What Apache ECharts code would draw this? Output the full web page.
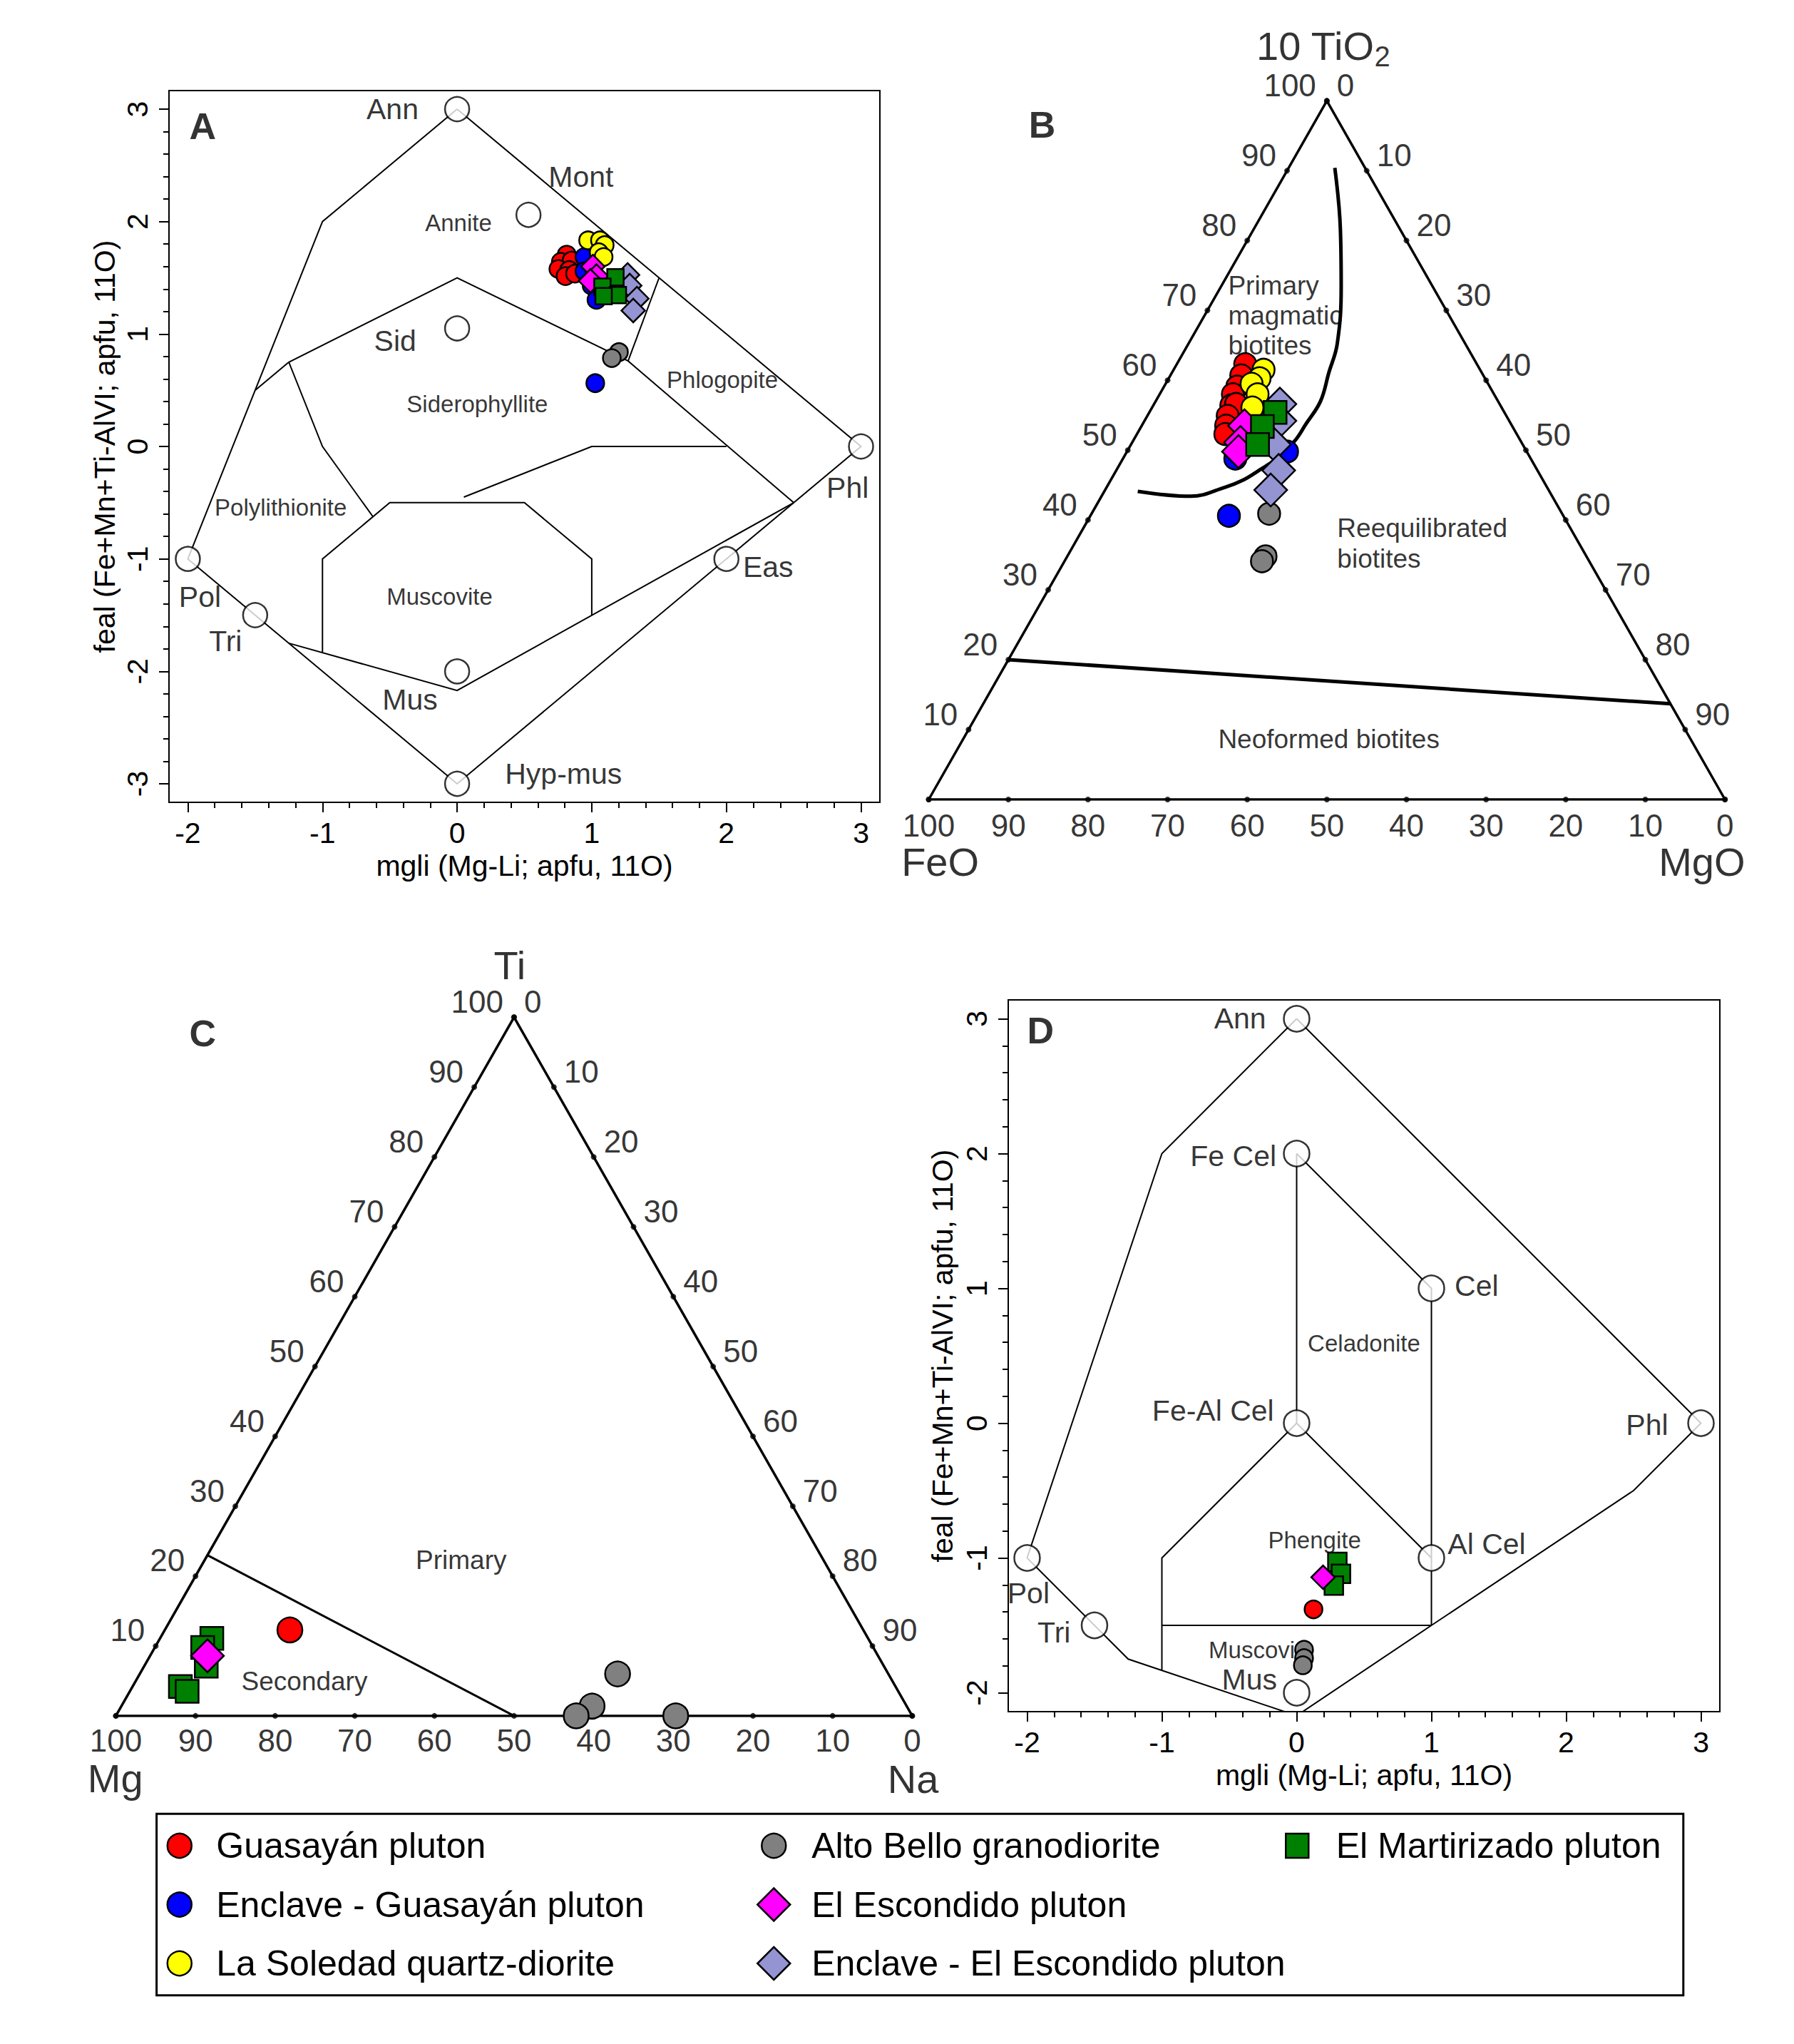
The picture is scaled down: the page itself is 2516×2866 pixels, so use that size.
<!DOCTYPE html>
<html><head><meta charset="utf-8">
<script src="https://cdn.jsdelivr.net/npm/echarts@6/dist/echarts.min.js"></script>
<style>html,body{margin:0;padding:0;background:#fff}#c{width:2516px;height:2866px}</style>
</head><body><div id="c"></div>
<script>
// ================= DATA =================
// Series names (legend)
const N_GUA = 'Guasayán pluton';
const N_ENG = 'Enclave - Guasayán pluton';
const N_SOL = 'La Soledad quartz-diorite';
const N_ALB = 'Alto Bello granodiorite';
const N_ESC = 'El Escondido pluton';
const N_ENE = 'Enclave - El Escondido pluton';
const N_MAR = 'El Martirizado pluton';

// Panel A: [mgli, feal]
const A_gua = [[0.814,1.706],[0.770,1.642],[0.850,1.653],[0.752,1.579],[0.832,1.569],[0.805,1.515],[0.876,1.537]];
const A_eng = [[0.946,1.685],[0.946,1.558],[0.999,1.431],[1.035,1.304],[1.026,0.563]];
const A_sol = [[0.973,1.833],[1.061,1.833],[1.096,1.791],[1.052,1.727],[1.088,1.685]];
const A_alb = [[1.202,0.839],[1.149,0.786]];
const A_esc = [[1.008,1.600],[1.035,1.515],[0.990,1.473]];
const A_ene = [[1.266,1.526],[1.282,1.431],[1.335,1.315],[1.308,1.209]];
const A_mar = [[1.176,1.505],[1.079,1.420],[1.194,1.346],[1.088,1.336]];

// Panel B: [FeO, MgO, 10TiO2] (%)
const B_gua = [[29.1,8.6,62.3],[30.4,8.9,60.7],[31.7,9.2,59.1],[32.8,9.2,58.0],[33.8,9.8,56.4],[33.1,10.3,56.6],[35.0,10.1,54.9],[35.9,10.6,53.5],[36.6,11.1,52.3]];
const B_eng = [[37.1,14.1,48.8],[30.1,20.1,49.8],[42.0,17.4,40.6]];
const B_sol = [[27.2,11.3,61.5],[28.3,11.4,60.3],[29.7,10.8,59.5],[29.7,12.3,58.0],[31.3,12.6,56.1]];
const B_alb = [[36.8,22.3,40.9],[40.3,24.9,34.8],[41.1,24.8,34.1]];
const B_esc = [[33.6,12.9,53.5],[35.3,13.6,51.1],[36.2,14.0,49.8]];
const B_ene = [[27.6,15.8,56.6],[28.8,17.0,54.2],[31.2,18.0,50.8],[32.5,20.4,47.1],[34.9,20.8,44.3]];
const B_mar = [[28.8,15.8,55.4],[31.4,15.2,53.4],[33.3,15.9,50.8]];
const B_curve = [[3.8,5.8,90.4],[7.5,10.9,81.6],[11.5,15.1,73.4],[16.1,18.7,65.2],[19.2,19.7,61.1],[22.3,20.7,57.0],[25.8,20.5,53.7],[28.4,20.3,51.3],[31.9,19.3,48.8],[34.8,18.0,47.2],[37.7,16.6,45.7],[40.4,14.9,44.7],[45.4,11.2,43.4],[51.7,4.2,44.1]];
const B_neoLine = [[80,0,20],[0,86.3,13.7]];

// Panel C: [Mg, Na, Ti] (%)
const C_gua = [[72.0,15.7,12.3]];
const C_alb = [[34.0,60.0,6.0],[39.5,59.1,1.4],[42.2,57.8,0],[29.7,70.3,0]];
const C_esc = [[84.2,7.2,8.6]];
const C_mar = [[82.4,6.5,11.1],[84.2,6.0,9.8],[85.1,7.8,7.1],[89.8,6.0,4.2],[89.3,7.2,3.5]];
const C_line = [[77,0,23],[50,50,0]];

// Panel D: [mgli, feal]
const D_gua = [[0.125,-1.381]];
const D_alb = [[0.055,-1.681],[0.055,-1.743],[0.046,-1.796]];
const D_esc = [[0.196,-1.143]];
const D_mar = [[0.302,-1.029],[0.329,-1.117],[0.276,-1.205]];

// Tick labels
const A_xTicks = [-2,-1,0,1,2,3];
const A_yTicks = [-3,-2,-1,0,1,2,3];
const D_xTicks = [-2,-1,0,1,2,3];
const D_yTicks = [-2,-1,0,1,2,3];
const ternTicks = [0,10,20,30,40,50,60,70,80,90,100];

// End members
const A_end = [[0,3],[0.53,2.06],[0,1.05],[3,0],[2,-1],[-2,-1],[-1.5,-1.5],[0,-2],[0,-3]];
const D_end = [[0,3],[0,2],[1,1],[0,0],[1,-1],[3,0],[-2,-1],[-1.5,-1.5],[0,-2]];

// Field boundaries
const A_lines = [
  [[0,3],[-1,2],[-1.5,0.5],[-2,-1],[-1.5,-1.5],[0,-3],[2,-1],[3,0],[0,3]],
  [[-1.5,0.5],[-1.25,0.75],[0,1.5],[1.27,0.76],[2.5,-0.5]],
  [[1.27,0.76],[1.5,1.5]],
  [[-1.25,0.75],[-1,0],[-0.625,-0.625]],
  [[-1,-1.83],[-1,-1],[-0.5,-0.5],[0.5,-0.5],[1,-1],[1,-1.5]],
  [[-1.25,-1.75],[0,-2.17],[2.5,-0.5]],
  [[0.05,-0.45],[1,0],[2,0]]
];
const D_lines = [
  [[0,3],[-1,2],[-2,-1],[-1.5,-1.5],[-1.25,-1.75],[0,-2.17],[1,-1.5],[2.5,-0.5],[3,0],[0,3]],
  [[0,2],[1,1],[1,-1],[1,-1.5]],
  [[0,2],[0,0],[1,-1]],
  [[0,0],[-1,-1],[-1,-1.83]],
  [[-1,-1.5],[1,-1.5]]
];

// Text labels [text, x, y]
const A_bigLabels = [['Ann',-0.48,3.0],['Mont',0.92,2.40],['Sid',-0.46,0.94],['Phl',2.90,-0.37],['Eas',2.31,-1.07],['Pol',-1.91,-1.34],['Tri',-1.72,-1.73],['Mus',-0.35,-2.25],['Hyp-mus',0.79,-2.91]];
const A_smallLabels = [['Annite',0.01,1.99],['Siderophyllite',0.15,0.38],['Phlogopite',1.97,0.59],['Polylithionite',-1.31,-0.54],['Muscovite',-0.13,-1.335]];
const D_bigLabels = [['Ann',-0.42,3.0],['Fe Cel',-0.47,1.98],['Cel',1.335,1.016],['Fe-Al Cel',-0.62,0.093],['Phl',2.60,-0.012],['Al Cel',1.41,-0.895],['Pol',-1.99,-1.26],['Tri',-1.80,-1.555],['Mus',-0.35,-1.90]];
const D_smallLabels = [['Celadonite',0.50,0.595],['Phengite',0.133,-0.866],['Muscovite',-0.26,-1.684]];

// ================= CHART =================
const FONT = 'Liberation Sans, Arial, Helvetica, sans-serif';
const styles = {};
styles[N_GUA] = {symbol:'circle', color:'#ff0000'};
styles[N_ENG] = {symbol:'circle', color:'#0000ff'};
styles[N_SOL] = {symbol:'circle', color:'#ffff00'};
styles[N_ALB] = {symbol:'circle', color:'#808080'};
styles[N_ESC] = {symbol:'diamond', color:'#ff00ff'};
styles[N_ENE] = {symbol:'diamond', color:'#9494d2'};
styles[N_MAR] = {symbol:'rect', color:'#008000'};

const tern = p => [p[1] + p[2] / 2, p[2]];

function pts(name, data, xi, yi, sizes, conv) {
  const st = styles[name];
  return {type:'scatter', name, xAxisIndex:xi, yAxisIndex:yi, symbol:st.symbol,
    symbolSize:sizes[st.symbol], data: conv ? data.map(conv) : data,
    itemStyle:{color:st.color, borderColor:'#000', borderWidth:2.5, opacity:1},
    emphasis:{disabled:true}, silent:true, clip:false, z:5, animation:false};
}
function lineS(data, xi, yi, width, smooth) {
  return {type:'line', xAxisIndex:xi, yAxisIndex:yi, data, symbol:'none', showSymbol:false,
    smooth: smooth || false, lineStyle:{color:'#000', width, join:'miter', cap:'butt'},
    silent:true, z:2, animation:false, clip:true};
}
function labelS(list, xi, yi, lab, z) {
  return {type:'scatter', xAxisIndex:xi, yAxisIndex:yi, symbolSize:1,
    itemStyle:{color:'rgba(0,0,0,0)'}, silent:true, clip:false, z: z || 10, animation:false,
    data:list.map(l => ({name:l[0], value:[l[1], l[2]]})),
    label:Object.assign({show:true, position:'inside', formatter:'{b}', color:'#000', fontFamily:FONT}, lab)};
}
function endS(data, xi, yi, size) {
  return {type:'scatter', xAxisIndex:xi, yAxisIndex:yi, data, symbol:'circle', symbolSize:size,
    itemStyle:{color:'#fff', borderColor:'#000', borderWidth:2.5}, silent:true, z:4, clip:false, animation:false};
}
function minorOf(ticks) {
  const out = [];
  for (let i = 0; i < ticks.length - 1; i++) for (let k = 1; k < 5; k++) out.push(Math.round((ticks[i] + k * 0.2) * 100) / 100);
  return out;
}
function ternSeries(xi, yi, bottomGap) {
  const dots = [];
  ternTicks.forEach(v => { dots.push(tern([100 - v, 0, v])); dots.push(tern([0, v, 100 - v])); dots.push(tern([v, 100 - v, 0])); });
  const left = ternTicks.filter(v => v > 0).map(v => [String(v)].concat(tern([100 - v, 0, v])));
  const right = ternTicks.filter(v => v < 100).map(v => [String(v)].concat(tern([0, v, 100 - v])));
  const bottom = ternTicks.map(v => [String(v)].concat(tern([v, 100 - v, 0])));
  return [
    lineS([[0,0],[100,0],[50,100],[0,0]], xi, yi, 3.5),
    {type:'scatter', xAxisIndex:xi, yAxisIndex:yi, data:dots, symbol:'circle', symbolSize:8, itemStyle:{color:'#000'}, silent:true, clip:false, z:3, animation:false},
    labelS(left, xi, yi, {fontSize:44, lineHeight:34, align:'right', verticalAlign:'middle', offset:[-15,-22]}),
    labelS(right, xi, yi, {fontSize:44, lineHeight:34, align:'left', verticalAlign:'middle', offset:[14,-22]}),
    labelS(bottom, xi, yi, {fontSize:44, lineHeight:34, align:'center', verticalAlign:'middle', offset:[0,bottomGap]})
  ];
}

function cartAxes(gi, min, max, ticks, isY, name, nameGap) {
  const major = {gridIndex:gi, type:'value', min, max,
    axisLine:{show:true, onZero:false, lineStyle:{color:'#000', width:2}},
    axisTick:{show:true, inside:false, length:14, customValues:ticks, lineStyle:{color:'#000', width:2}},
    axisLabel:{show:true, customValues:ticks, fontSize:41, color:'#000', fontFamily:FONT, margin: isY ? 24 : 22, rotate: isY ? 90 : 0},
    splitLine:{show:false}, minorTick:{show:false},
    name, nameLocation:'middle', nameGap, nameRotate: isY ? 90 : 0,
    nameTextStyle:{fontSize:41, color:'#000', fontFamily:FONT}};
  const minor = {gridIndex:gi, type:'value', min, max,
    axisLine:{show:false, onZero:false}, axisLabel:{show:false},
    axisTick:{show:true, inside:false, length:8, customValues:minorOf(ticks), lineStyle:{color:'#000', width:2}},
    splitLine:{show:false}};
  if (!isY) { major.position = 'bottom'; minor.position = 'bottom'; } else { major.position = 'left'; minor.position = 'left'; }
  return [major, minor];
}
function hiddenAxis(gi) { return {gridIndex:gi, type:'value', min:0, max:100, show:false}; }

const TITLE_X = 'mgli (Mg-Li; apfu, 11O)';
const TITLE_Y = 'feal (Fe+Mn+Ti-AlVI; apfu, 11O)';
const xAxes = [].concat(
  cartAxes(0, -2.14, 3.14, A_xTicks, false, TITLE_X, 68),
  [hiddenAxis(1), hiddenAxis(2)],
  cartAxes(3, -2.14, 3.14, D_xTicks, false, TITLE_X, 68)
);
const yAxes = [].concat(
  cartAxes(0, -3.165, 3.165, A_yTicks, true, TITLE_Y, 70),
  [hiddenAxis(1), hiddenAxis(2)],
  cartAxes(3, -2.14, 3.14, D_yTicks, true, TITLE_Y, 72)
);
// axis indices: A x0/x1 y0/y1 ; B x2 y2 ; C x3 y3 ; D x4/x5 y4/y5

const sizesA = {circle:25, diamond:33, rect:23};
const sizesB = {circle:31, diamond:46, rect:32};
const sizesC = {circle:35, diamond:46, rect:32};
const sizesD = {circle:25, diamond:33, rect:26};

const series = [];
// ---- Panel A ----
A_lines.forEach(l => series.push(lineS(l, 0, 0, 2)));
series.push(endS(A_end, 0, 0, 34));
series.push(labelS(A_bigLabels, 0, 0, {fontSize:41}, 3));
series.push(labelS(A_smallLabels, 0, 0, {fontSize:33}, 3));
series.push(labelS([['A',-1.89,2.85]], 0, 0, {fontSize:52, fontWeight:'bold'}));
[[N_GUA,A_gua],[N_ENG,A_eng],[N_SOL,A_sol],[N_ALB,A_alb],[N_ESC,A_esc],[N_ENE,A_ene],[N_MAR,A_mar]]
  .forEach(s => series.push(pts(s[0], s[1], 0, 0, sizesA)));
// ---- Panel B ----
ternSeries(2, 2, 36).forEach(s => series.push(s));
series.push(lineS(B_curve.map(tern), 2, 2, 5, 0.4));
series.push(lineS(B_neoLine.map(tern), 2, 2, 5));
series.push(labelS([['B',14.24,96.55]], 2, 2, {fontSize:52, fontWeight:'bold'}));
series.push(labelS([['FeO',1.44,-8.9],['MgO',97.1,-8.9]], 2, 2, {fontSize:56, lineHeight:44}));
series.push(labelS([['10 TiO2',49.53,107.9]], 2, 2, {fontSize:56,
  formatter:'{a|10 TiO}{s|2}',
  rich:{a:{fontSize:56, fontFamily:FONT, color:'#000', verticalAlign:'middle'},
        s:{fontSize:40, fontFamily:FONT, color:'#000', padding:[30,0,0,0], verticalAlign:'middle'}}}));
series.push(labelS([['Primary\nmagmatic\nbiotites',37.6,69.3]], 2, 2, {fontSize:37, align:'left', lineHeight:42}, 3));
series.push(labelS([['Reequilibrated\nbiotites',51.3,36.65]], 2, 2, {fontSize:37, align:'left', lineHeight:43}, 3));
series.push(labelS([['Neoformed biotites',50.25,8.6]], 2, 2, {fontSize:37}, 3));
[[N_GUA,B_gua],[N_ENG,B_eng],[N_SOL,B_sol],[N_ALB,B_alb],[N_ESC,B_esc],[N_ENE,B_ene],[N_MAR,B_mar]]
  .forEach(s => series.push(pts(s[0], s[1], 2, 2, sizesB, tern)));
// ---- Panel C ----
ternSeries(3, 3, 35).forEach(s => series.push(s));
series.push(lineS(C_line.map(tern), 3, 3, 3));
series.push(labelS([['C',10.91,97.66]], 3, 3, {fontSize:52, fontWeight:'bold'}));
series.push(labelS([['Ti',49.45,107.4],['Mg',-0.07,-8.9],['Na',100.1,-9.0]], 3, 3, {fontSize:56, lineHeight:44}));
series.push(labelS([['Primary',43.36,22.27],['Secondary',23.68,4.93]], 3, 3, {fontSize:37}, 3));
[[N_GUA,C_gua],[N_ALB,C_alb],[N_MAR,C_mar],[N_ESC,C_esc]]
  .forEach(s => series.push(pts(s[0], s[1], 3, 3, sizesC, tern)));
// ---- Panel D ----
D_lines.forEach(l => series.push(lineS(l, 4, 4, 2)));
series.push(endS(D_end, 4, 4, 36));
series.push(labelS(D_bigLabels, 4, 4, {fontSize:41}, 3));
series.push(labelS(D_smallLabels, 4, 4, {fontSize:33}, 3));
series.push(labelS([['D',-1.90,2.91]], 4, 4, {fontSize:52, fontWeight:'bold'}));
[[N_GUA,D_gua],[N_ALB,D_alb],[N_MAR,D_mar],[N_ESC,D_esc]]
  .forEach(s => series.push(pts(s[0], s[1], 4, 4, sizesD)));

function legTxt(padLeft) { return {fontSize:50, color:'#000', fontFamily:FONT, lineHeight:50, padding:[0,0,0,padLeft]}; }
const legBase = {orient:'vertical', itemGap:32.5, selectedMode:false,
  itemStyle:{borderColor:'#000', borderWidth:2.5}, padding:0};
const option = {
  animation:false,
  backgroundColor:'#fff',
  textStyle:{fontFamily:FONT},
  grid:[
    {left:237, top:127, width:997, height:998, show:true, borderColor:'#000', borderWidth:2, backgroundColor:'transparent', containLabel:false, outerBoundsMode:'none'},
    {left:1302.5, top:141.4, width:1116.7, height:979.6, show:false, containLabel:false, outerBoundsMode:'none'},
    {left:162.5, top:1426.3, width:1116.9, height:979.6, show:false, containLabel:false, outerBoundsMode:'none'},
    {left:1414, top:1402, width:998, height:998, show:true, borderColor:'#000', borderWidth:2, backgroundColor:'transparent', containLabel:false, outerBoundsMode:'none'}
  ],
  xAxis:xAxes,
  yAxis:yAxes,
  legend:[
    Object.assign({}, legBase, {left:233.5, top:2563, itemWidth:34, itemHeight:34, textStyle:legTxt(29.5),
      data:[{name:N_GUA, icon:'circle'},{name:N_ENG, icon:'circle'},{name:N_SOL, icon:'circle'}]}),
    Object.assign({}, legBase, {left:1067, top:2563, itemWidth:34, itemHeight:34, textStyle:legTxt(31),
      data:[{name:N_ALB, icon:'circle'}]}),
    Object.assign({}, legBase, {left:1061, top:2645.5, itemWidth:46, itemHeight:46, textStyle:legTxt(25),
      data:[{name:N_ESC, icon:'diamond'},{name:N_ENE, icon:'diamond'}]}),
    Object.assign({}, legBase, {left:1802, top:2563, itemWidth:32, itemHeight:34, textStyle:legTxt(33.5),
      data:[{name:N_MAR, icon:'rect'}]})
  ],
  graphic:[{type:'rect', shape:{x:219.6, y:2543.3, width:2141.2, height:254.4},
    style:{fill:'none', stroke:'#000', lineWidth:3}, silent:true, z:0}],
  series
};
const chart = echarts.init(document.getElementById('c'), null, {renderer:'svg', width:2516, height:2866});
chart.setOption(option);
</script>
</body></html>
